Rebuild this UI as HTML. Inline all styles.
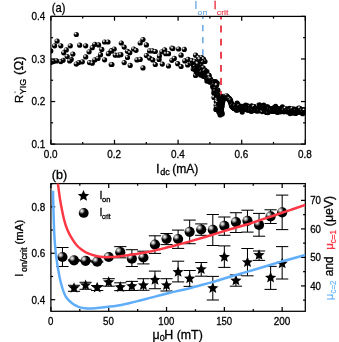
<!DOCTYPE html>
<html><head><meta charset="utf-8"><title>fig</title>
<style>
html,body{margin:0;padding:0;background:#fff;}
svg{display:block;font-family:"Liberation Sans", sans-serif;will-change:transform;}
text{stroke-width:0.3px;}
text[fill="#000"]{stroke:#000;}
text[fill="#ff3644"]{stroke:#ff3644;}
text[fill="#60aefa"]{stroke:#60aefa;stroke-width:0.1px;}
</style></head><body>
<svg width="339" height="342" viewBox="0 0 339 342">
<defs>
<radialGradient id="gs" cx="0.33" cy="0.31" r="0.31" fx="0.33" fy="0.31">
<stop offset="0" stop-color="#fff"/><stop offset="0.4" stop-color="#aaa"/><stop offset="1" stop-color="#000"/>
</radialGradient>
<radialGradient id="gb" cx="0.31" cy="0.30" r="0.33" fx="0.31" fy="0.30">
<stop offset="0" stop-color="#fff"/><stop offset="0.35" stop-color="#bbb"/><stop offset="1" stop-color="#000"/>
</radialGradient>
<clipPath id="ct"><rect x="50.9" y="16.4" width="254.4" height="127.69999999999999"/></clipPath>
<clipPath id="cb"><rect x="50.9" y="183.6" width="254.4" height="127.70000000000002"/></clipPath>
</defs>
<rect width="339" height="342" fill="#fff"/>
<g>

<g clip-path="url(#ct)"><line x1="202.8" y1="12.75" x2="202.8" y2="55.6" stroke="#72ace4" stroke-width="1.65" stroke-dasharray="6.3 5.85"/>
<line x1="221.0" y1="12.5" x2="221.0" y2="100" stroke="#ea3442" stroke-width="1.85" stroke-dasharray="6.9 6.2"/></g>
<g clip-path="url(#ct)">
<circle cx="76.3" cy="34.5" r="2.6" fill="url(#gs)"/>
<circle cx="57.1" cy="41.1" r="2.6" fill="url(#gs)"/>
<circle cx="54.6" cy="45.8" r="2.6" fill="url(#gs)"/>
<circle cx="60.8" cy="45.8" r="2.6" fill="url(#gs)"/>
<circle cx="50.8" cy="50.9" r="2.6" fill="url(#gs)"/>
<circle cx="70.3" cy="45.8" r="2.6" fill="url(#gs)"/>
<circle cx="66.3" cy="49.9" r="2.6" fill="url(#gs)"/>
<circle cx="63.7" cy="52.8" r="2.6" fill="url(#gs)"/>
<circle cx="72.9" cy="54.1" r="2.6" fill="url(#gs)"/>
<circle cx="67.2" cy="56.5" r="2.6" fill="url(#gs)"/>
<circle cx="71.2" cy="59.4" r="2.6" fill="url(#gs)"/>
<circle cx="69.7" cy="60.9" r="2.6" fill="url(#gs)"/>
<circle cx="63.1" cy="60.3" r="2.6" fill="url(#gs)"/>
<circle cx="60.8" cy="61.6" r="2.6" fill="url(#gs)"/>
<circle cx="56.5" cy="60.9" r="2.6" fill="url(#gs)"/>
<circle cx="53.3" cy="61.6" r="2.6" fill="url(#gs)"/>
<circle cx="50.8" cy="62.6" r="2.6" fill="url(#gs)"/>
<circle cx="79.7" cy="45.2" r="2.6" fill="url(#gs)"/>
<circle cx="85.7" cy="45.8" r="2.6" fill="url(#gs)"/>
<circle cx="89.1" cy="51.8" r="2.6" fill="url(#gs)"/>
<circle cx="85.7" cy="56.9" r="2.6" fill="url(#gs)"/>
<circle cx="82.3" cy="61.8" r="2.6" fill="url(#gs)"/>
<circle cx="78.8" cy="62.6" r="2.6" fill="url(#gs)"/>
<circle cx="76.3" cy="64.1" r="2.6" fill="url(#gs)"/>
<circle cx="89.5" cy="62.6" r="2.6" fill="url(#gs)"/>
<circle cx="92.3" cy="63.2" r="2.6" fill="url(#gs)"/>
<circle cx="94.8" cy="59.9" r="2.6" fill="url(#gs)"/>
<circle cx="98.0" cy="58.4" r="2.6" fill="url(#gs)"/>
<circle cx="100.5" cy="54.7" r="2.6" fill="url(#gs)"/>
<circle cx="101.8" cy="49.4" r="2.6" fill="url(#gs)"/>
<circle cx="98.6" cy="44.9" r="2.6" fill="url(#gs)"/>
<circle cx="94.8" cy="44.3" r="2.6" fill="url(#gs)"/>
<circle cx="92.3" cy="47.7" r="2.6" fill="url(#gs)"/>
<circle cx="104.6" cy="42.0" r="2.6" fill="url(#gs)"/>
<circle cx="108.0" cy="42.0" r="2.6" fill="url(#gs)"/>
<circle cx="104.6" cy="59.8" r="2.6" fill="url(#gs)"/>
<circle cx="108.4" cy="53.7" r="2.6" fill="url(#gs)"/>
<circle cx="111.2" cy="50.9" r="2.6" fill="url(#gs)"/>
<circle cx="111.2" cy="64.5" r="2.6" fill="url(#gs)"/>
<circle cx="121.3" cy="43.0" r="2.6" fill="url(#gs)"/>
<circle cx="124.2" cy="47.1" r="2.6" fill="url(#gs)"/>
<circle cx="114.2" cy="49.0" r="2.6" fill="url(#gs)"/>
<circle cx="111.5" cy="50.9" r="2.6" fill="url(#gs)"/>
<circle cx="115.3" cy="55.2" r="2.6" fill="url(#gs)"/>
<circle cx="118.5" cy="55.2" r="2.6" fill="url(#gs)"/>
<circle cx="120.9" cy="54.7" r="2.6" fill="url(#gs)"/>
<circle cx="127.5" cy="51.3" r="2.6" fill="url(#gs)"/>
<circle cx="129.8" cy="52.8" r="2.6" fill="url(#gs)"/>
<circle cx="133.6" cy="49.0" r="2.6" fill="url(#gs)"/>
<circle cx="136.0" cy="50.3" r="2.6" fill="url(#gs)"/>
<circle cx="127.5" cy="57.5" r="2.6" fill="url(#gs)"/>
<circle cx="124.2" cy="62.6" r="2.6" fill="url(#gs)"/>
<circle cx="130.2" cy="65.4" r="2.6" fill="url(#gs)"/>
<circle cx="111.9" cy="64.5" r="2.6" fill="url(#gs)"/>
<circle cx="137.0" cy="59.9" r="2.6" fill="url(#gs)"/>
<circle cx="140.2" cy="59.4" r="2.6" fill="url(#gs)"/>
<circle cx="143.0" cy="67.9" r="2.6" fill="url(#gs)"/>
<circle cx="140.2" cy="43.0" r="2.6" fill="url(#gs)"/>
<circle cx="143.0" cy="39.6" r="2.6" fill="url(#gs)"/>
<circle cx="146.4" cy="44.9" r="2.6" fill="url(#gs)"/>
<circle cx="146.4" cy="55.6" r="2.6" fill="url(#gs)"/>
<circle cx="149.6" cy="50.9" r="2.6" fill="url(#gs)"/>
<circle cx="152.5" cy="50.9" r="2.6" fill="url(#gs)"/>
<circle cx="155.3" cy="51.5" r="2.6" fill="url(#gs)"/>
<circle cx="149.6" cy="58.1" r="2.6" fill="url(#gs)"/>
<circle cx="152.8" cy="59.9" r="2.6" fill="url(#gs)"/>
<circle cx="155.3" cy="64.5" r="2.6" fill="url(#gs)"/>
<circle cx="159.1" cy="59.4" r="2.6" fill="url(#gs)"/>
<circle cx="159.4" cy="56.0" r="2.6" fill="url(#gs)"/>
<circle cx="161.9" cy="51.8" r="2.6" fill="url(#gs)"/>
<circle cx="164.7" cy="49.9" r="2.6" fill="url(#gs)"/>
<circle cx="165.7" cy="53.7" r="2.6" fill="url(#gs)"/>
<circle cx="168.5" cy="53.7" r="2.6" fill="url(#gs)"/>
<circle cx="162.3" cy="64.1" r="2.6" fill="url(#gs)"/>
<circle cx="168.5" cy="66.0" r="2.6" fill="url(#gs)"/>
<circle cx="171.9" cy="48.1" r="2.6" fill="url(#gs)"/>
<circle cx="171.9" cy="60.3" r="2.6" fill="url(#gs)"/>
<circle cx="172.9" cy="48.6" r="2.6" fill="url(#gs)"/>
<circle cx="178.6" cy="49.0" r="2.6" fill="url(#gs)"/>
<circle cx="184.3" cy="49.4" r="2.6" fill="url(#gs)"/>
<circle cx="181.1" cy="55.2" r="2.6" fill="url(#gs)"/>
<circle cx="174.3" cy="58.4" r="2.6" fill="url(#gs)"/>
<circle cx="177.7" cy="63.7" r="2.6" fill="url(#gs)"/>
<circle cx="181.1" cy="66.5" r="2.6" fill="url(#gs)"/>
<circle cx="184.8" cy="60.9" r="2.6" fill="url(#gs)"/>
<circle cx="188.0" cy="59.4" r="2.6" fill="url(#gs)"/>
<circle cx="187.7" cy="65.0" r="2.6" fill="url(#gs)"/>
<circle cx="190.9" cy="63.2" r="2.6" fill="url(#gs)"/>
<circle cx="191.8" cy="60.7" r="2.6" fill="url(#gs)"/>
<circle cx="195.6" cy="55.2" r="2.6" fill="url(#gs)"/>
<circle cx="198.4" cy="57.5" r="2.6" fill="url(#gs)"/>
<circle cx="201.2" cy="59.4" r="2.6" fill="url(#gs)"/>
<circle cx="194.6" cy="61.3" r="2.6" fill="url(#gs)"/>
<circle cx="197.5" cy="63.2" r="2.6" fill="url(#gs)"/>
<circle cx="200.3" cy="65.0" r="2.6" fill="url(#gs)"/>
<circle cx="193.7" cy="66.0" r="2.6" fill="url(#gs)"/>
<circle cx="196.5" cy="67.9" r="2.6" fill="url(#gs)"/>
<circle cx="200.3" cy="68.8" r="2.6" fill="url(#gs)"/>
<circle cx="203.1" cy="67.9" r="2.6" fill="url(#gs)"/>
<circle cx="205.0" cy="70.1" r="2.6" fill="url(#gs)"/>
<circle cx="206.9" cy="71.6" r="2.6" fill="url(#gs)"/>
<circle cx="195.6" cy="75.4" r="2.6" fill="url(#gs)"/>
<circle cx="198.4" cy="73.5" r="2.6" fill="url(#gs)"/>
<circle cx="202.2" cy="74.5" r="2.6" fill="url(#gs)"/>
<circle cx="205.0" cy="76.4" r="2.6" fill="url(#gs)"/>
<circle cx="207.8" cy="76.4" r="2.6" fill="url(#gs)"/>
<circle cx="208.8" cy="79.2" r="2.6" fill="url(#gs)"/>
<circle cx="206.9" cy="81.1" r="2.6" fill="url(#gs)"/>
<circle cx="210.7" cy="81.5" r="2.6" fill="url(#gs)"/>
<circle cx="216.3" cy="83.0" r="2.6" fill="url(#gs)"/>
<circle cx="201.5" cy="57.5" r="2.6" fill="url(#gs)"/>
<circle cx="203.5" cy="59.0" r="2.6" fill="url(#gs)"/>
<circle cx="205.0" cy="61.5" r="2.6" fill="url(#gs)"/>
<circle cx="202.5" cy="62.0" r="2.6" fill="url(#gs)"/>
<circle cx="199.5" cy="59.2" r="2.6" fill="url(#gs)"/>
<circle cx="197.5" cy="63.7" r="2.6" fill="url(#gs)"/>
<circle cx="193.2" cy="68.9" r="2.6" fill="url(#gs)"/>
<circle cx="193.7" cy="65.4" r="2.6" fill="#000"/>
<circle cx="193.7" cy="65.5" r="2.6" fill="#000"/>
<circle cx="194.2" cy="68.6" r="2.6" fill="#000"/>
<circle cx="194.7" cy="66.0" r="2.6" fill="#000"/>
<circle cx="194.8" cy="66.4" r="2.6" fill="#000"/>
<circle cx="194.8" cy="66.8" r="2.6" fill="url(#gs)"/>
<circle cx="195.5" cy="67.6" r="2.6" fill="#000"/>
<circle cx="195.4" cy="70.0" r="2.6" fill="#000"/>
<circle cx="195.7" cy="69.0" r="2.6" fill="url(#gs)"/>
<circle cx="196.4" cy="72.2" r="2.6" fill="#000"/>
<circle cx="196.6" cy="68.7" r="2.6" fill="#000"/>
<circle cx="197.0" cy="68.9" r="2.6" fill="#000"/>
<circle cx="197.3" cy="72.4" r="2.6" fill="#000"/>
<circle cx="197.6" cy="71.4" r="2.6" fill="#000"/>
<circle cx="198.0" cy="69.8" r="2.6" fill="#000"/>
<circle cx="198.1" cy="68.0" r="2.6" fill="#000"/>
<circle cx="198.4" cy="69.1" r="2.6" fill="#000"/>
<circle cx="198.7" cy="69.9" r="2.6" fill="#000"/>
<circle cx="198.9" cy="71.8" r="2.6" fill="#000"/>
<circle cx="199.3" cy="73.3" r="2.6" fill="url(#gs)"/>
<circle cx="199.7" cy="72.8" r="2.6" fill="#000"/>
<circle cx="200.0" cy="71.9" r="2.6" fill="#000"/>
<circle cx="200.5" cy="74.3" r="2.6" fill="#000"/>
<circle cx="200.6" cy="75.1" r="2.6" fill="#000"/>
<circle cx="200.8" cy="69.7" r="2.6" fill="url(#gs)"/>
<circle cx="201.0" cy="70.1" r="2.6" fill="#000"/>
<circle cx="201.7" cy="72.4" r="2.6" fill="url(#gs)"/>
<circle cx="202.1" cy="74.3" r="2.6" fill="url(#gs)"/>
<circle cx="202.2" cy="73.3" r="2.6" fill="#000"/>
<circle cx="202.5" cy="74.2" r="2.6" fill="#000"/>
<circle cx="202.7" cy="73.7" r="2.6" fill="#000"/>
<circle cx="202.9" cy="75.4" r="2.6" fill="#000"/>
<circle cx="203.3" cy="76.3" r="2.6" fill="#000"/>
<circle cx="203.4" cy="70.8" r="2.6" fill="#000"/>
<circle cx="204.0" cy="75.0" r="2.6" fill="#000"/>
<circle cx="204.0" cy="76.0" r="2.6" fill="#000"/>
<circle cx="204.2" cy="72.7" r="2.6" fill="#000"/>
<circle cx="204.7" cy="71.1" r="2.6" fill="url(#gs)"/>
<circle cx="205.4" cy="74.3" r="2.6" fill="#000"/>
<circle cx="205.6" cy="72.0" r="2.6" fill="#000"/>
<circle cx="205.9" cy="76.9" r="2.6" fill="url(#gs)"/>
<circle cx="206.2" cy="74.7" r="2.6" fill="#000"/>
<circle cx="206.5" cy="78.1" r="2.6" fill="url(#gs)"/>
<circle cx="206.9" cy="76.4" r="2.6" fill="url(#gs)"/>
<circle cx="207.2" cy="78.8" r="2.6" fill="#000"/>
<circle cx="207.5" cy="75.3" r="2.6" fill="#000"/>
<circle cx="207.4" cy="76.5" r="2.6" fill="#000"/>
<circle cx="207.8" cy="80.2" r="2.6" fill="url(#gs)"/>
<circle cx="208.6" cy="75.4" r="2.6" fill="url(#gs)"/>
<circle cx="208.7" cy="76.2" r="2.6" fill="url(#gs)"/>
<circle cx="209.1" cy="78.1" r="2.6" fill="#000"/>
<circle cx="209.1" cy="75.4" r="2.6" fill="url(#gs)"/>
<circle cx="209.5" cy="78.3" r="2.6" fill="url(#gs)"/>
<circle cx="209.7" cy="82.1" r="2.6" fill="url(#gs)"/>
<circle cx="210.3" cy="80.7" r="2.6" fill="#000"/>
<circle cx="208.5" cy="80.2" r="2.6" fill="#000"/>
<circle cx="210.6" cy="79.1" r="2.6" fill="url(#gs)"/>
<circle cx="213.1" cy="81.5" r="2.6" fill="url(#gs)"/>
<circle cx="209.9" cy="81.8" r="2.6" fill="#000"/>
<circle cx="210.6" cy="80.5" r="2.6" fill="#000"/>
<circle cx="212.9" cy="82.2" r="2.6" fill="#000"/>
<circle cx="212.8" cy="81.6" r="2.6" fill="url(#gs)"/>
<circle cx="212.8" cy="81.9" r="2.6" fill="url(#gs)"/>
<circle cx="212.6" cy="82.0" r="2.6" fill="#000"/>
<circle cx="213.6" cy="82.7" r="2.6" fill="#000"/>
<circle cx="214.6" cy="82.9" r="2.6" fill="url(#gs)"/>
<circle cx="214.5" cy="85.5" r="2.6" fill="url(#gs)"/>
<circle cx="213.2" cy="84.6" r="2.6" fill="#000"/>
<circle cx="213.4" cy="85.5" r="2.6" fill="url(#gs)"/>
<circle cx="213.6" cy="87.3" r="2.6" fill="#000"/>
<circle cx="214.8" cy="88.3" r="2.6" fill="url(#gs)"/>
<circle cx="212.7" cy="86.7" r="2.6" fill="#000"/>
<circle cx="214.8" cy="87.4" r="2.6" fill="#000"/>
<circle cx="214.0" cy="89.7" r="2.6" fill="#000"/>
<circle cx="215.7" cy="88.7" r="2.6" fill="url(#gs)"/>
<circle cx="217.9" cy="90.2" r="2.6" fill="url(#gs)"/>
<circle cx="215.5" cy="89.9" r="2.6" fill="#000"/>
<circle cx="214.8" cy="91.5" r="2.6" fill="url(#gs)"/>
<circle cx="215.2" cy="93.1" r="2.6" fill="url(#gs)"/>
<circle cx="216.9" cy="92.0" r="2.6" fill="#000"/>
<circle cx="213.8" cy="92.9" r="2.6" fill="#000"/>
<circle cx="216.8" cy="93.9" r="2.6" fill="#000"/>
<circle cx="217.9" cy="95.1" r="2.6" fill="#000"/>
<circle cx="215.3" cy="95.8" r="2.6" fill="#000"/>
<circle cx="216.8" cy="96.9" r="2.6" fill="#000"/>
<circle cx="217.6" cy="97.1" r="2.6" fill="url(#gs)"/>
<circle cx="214.0" cy="97.5" r="2.6" fill="url(#gs)"/>
<circle cx="216.5" cy="97.2" r="2.6" fill="#000"/>
<circle cx="218.0" cy="97.0" r="2.6" fill="#000"/>
<circle cx="217.6" cy="98.2" r="2.6" fill="#000"/>
<circle cx="216.7" cy="99.8" r="2.6" fill="url(#gs)"/>
<circle cx="218.1" cy="101.0" r="2.6" fill="#000"/>
<circle cx="216.3" cy="101.8" r="2.6" fill="url(#gs)"/>
<circle cx="218.2" cy="100.6" r="2.6" fill="#000"/>
<circle cx="216.7" cy="101.3" r="2.6" fill="url(#gs)"/>
<circle cx="217.5" cy="102.8" r="2.6" fill="url(#gs)"/>
<circle cx="218.3" cy="104.1" r="2.6" fill="#000"/>
<circle cx="218.4" cy="104.2" r="2.6" fill="#000"/>
<circle cx="216.2" cy="105.2" r="2.6" fill="url(#gs)"/>
<circle cx="219.6" cy="106.1" r="2.6" fill="#000"/>
<circle cx="219.0" cy="106.4" r="2.6" fill="#000"/>
<circle cx="218.1" cy="105.6" r="2.6" fill="#000"/>
<circle cx="216.5" cy="107.7" r="2.6" fill="url(#gs)"/>
<circle cx="217.1" cy="108.8" r="2.6" fill="url(#gs)"/>
<circle cx="220.8" cy="108.0" r="2.6" fill="#000"/>
<circle cx="215.9" cy="109.4" r="2.6" fill="#000"/>
<circle cx="220.9" cy="108.7" r="2.6" fill="#000"/>
<circle cx="219.7" cy="111.1" r="2.6" fill="url(#gs)"/>
<circle cx="219.8" cy="111.5" r="2.6" fill="#000"/>
<circle cx="221.1" cy="112.5" r="2.6" fill="#000"/>
<circle cx="221.8" cy="112.4" r="2.6" fill="#000"/>
<circle cx="218.7" cy="111.7" r="2.6" fill="#000"/>
<circle cx="221.4" cy="112.1" r="2.6" fill="#000"/>
<circle cx="222.2" cy="113.9" r="2.6" fill="url(#gs)"/>
<circle cx="220.2" cy="114.9" r="2.6" fill="#000"/>
<circle cx="220.3" cy="114.4" r="2.6" fill="url(#gs)"/>
<circle cx="220.0" cy="113.3" r="2.6" fill="#000"/>
<circle cx="221.0" cy="112.5" r="2.6" fill="#000"/>
<circle cx="221.1" cy="111.6" r="2.6" fill="#000"/>
<circle cx="220.8" cy="111.0" r="2.6" fill="url(#gs)"/>
<circle cx="221.2" cy="110.9" r="2.6" fill="url(#gs)"/>
<circle cx="221.0" cy="109.4" r="2.6" fill="#000"/>
<circle cx="221.5" cy="109.7" r="2.6" fill="#000"/>
<circle cx="221.2" cy="109.1" r="2.6" fill="#000"/>
<circle cx="221.4" cy="107.5" r="2.6" fill="url(#gs)"/>
<circle cx="221.6" cy="107.8" r="2.6" fill="url(#gs)"/>
<circle cx="221.8" cy="106.7" r="2.6" fill="#000"/>
<circle cx="221.8" cy="106.2" r="2.6" fill="#000"/>
<circle cx="221.7" cy="104.8" r="2.6" fill="url(#gs)"/>
<circle cx="222.1" cy="104.5" r="2.6" fill="#000"/>
<circle cx="221.9" cy="103.6" r="2.6" fill="#000"/>
<circle cx="222.1" cy="103.6" r="2.6" fill="url(#gs)"/>
<circle cx="222.0" cy="102.6" r="2.6" fill="#000"/>
<circle cx="222.1" cy="102.1" r="2.6" fill="url(#gs)"/>
<circle cx="223.0" cy="101.1" r="2.6" fill="#000"/>
<circle cx="222.4" cy="101.1" r="2.6" fill="#000"/>
<circle cx="221.7" cy="99.8" r="2.6" fill="#000"/>
<circle cx="222.9" cy="99.2" r="2.6" fill="url(#gs)"/>
<circle cx="222.9" cy="98.9" r="2.6" fill="#000"/>
<circle cx="222.6" cy="97.9" r="2.6" fill="#000"/>
<circle cx="223.1" cy="98.4" r="2.6" fill="#000"/>
<circle cx="223.1" cy="97.9" r="2.6" fill="#000"/>
<circle cx="223.1" cy="96.4" r="2.6" fill="#000"/>
<circle cx="224.1" cy="97.9" r="2.6" fill="#000"/>
<circle cx="224.0" cy="96.9" r="2.6" fill="url(#gs)"/>
<circle cx="224.5" cy="96.5" r="2.6" fill="#000"/>
<circle cx="224.7" cy="96.9" r="2.6" fill="#000"/>
<circle cx="225.1" cy="96.4" r="2.6" fill="url(#gs)"/>
<circle cx="225.0" cy="97.4" r="2.6" fill="#000"/>
<circle cx="225.5" cy="97.0" r="2.6" fill="#000"/>
<circle cx="225.6" cy="98.2" r="2.6" fill="#000"/>
<circle cx="226.6" cy="97.9" r="2.6" fill="url(#gs)"/>
<circle cx="226.5" cy="98.2" r="2.6" fill="#000"/>
<circle cx="226.7" cy="95.8" r="2.6" fill="url(#gs)"/>
<circle cx="227.2" cy="97.9" r="2.6" fill="url(#gs)"/>
<circle cx="227.3" cy="97.0" r="2.6" fill="#000"/>
<circle cx="227.8" cy="97.6" r="2.6" fill="url(#gs)"/>
<circle cx="228.1" cy="97.5" r="2.6" fill="#000"/>
<circle cx="228.6" cy="99.2" r="2.6" fill="#000"/>
<circle cx="228.7" cy="98.4" r="2.6" fill="url(#gs)"/>
<circle cx="229.0" cy="98.3" r="2.6" fill="#000"/>
<circle cx="229.5" cy="98.8" r="2.6" fill="url(#gs)"/>
<circle cx="229.6" cy="100.6" r="2.6" fill="#000"/>
<circle cx="229.8" cy="100.0" r="2.6" fill="#000"/>
<circle cx="230.2" cy="99.9" r="2.6" fill="#000"/>
<circle cx="230.6" cy="100.4" r="2.6" fill="url(#gs)"/>
<circle cx="230.5" cy="101.9" r="2.6" fill="#000"/>
<circle cx="231.0" cy="103.7" r="2.6" fill="url(#gs)"/>
<circle cx="230.8" cy="102.1" r="2.6" fill="#000"/>
<circle cx="231.4" cy="104.4" r="2.6" fill="url(#gs)"/>
<circle cx="231.3" cy="103.2" r="2.6" fill="#000"/>
<circle cx="231.5" cy="106.0" r="2.6" fill="#000"/>
<circle cx="232.0" cy="104.0" r="2.6" fill="#000"/>
<circle cx="232.3" cy="106.9" r="2.6" fill="#000"/>
<circle cx="232.4" cy="105.7" r="2.6" fill="url(#gs)"/>
<circle cx="232.8" cy="106.3" r="2.6" fill="#000"/>
<circle cx="233.1" cy="107.5" r="2.6" fill="#000"/>
<circle cx="233.4" cy="105.7" r="2.6" fill="#000"/>
<circle cx="234.0" cy="108.3" r="2.6" fill="#000"/>
<circle cx="234.0" cy="108.6" r="2.6" fill="url(#gs)"/>
<circle cx="234.5" cy="107.1" r="2.6" fill="#000"/>
<circle cx="234.8" cy="107.4" r="2.6" fill="#000"/>
<circle cx="235.0" cy="107.6" r="2.6" fill="url(#gs)"/>
<circle cx="235.4" cy="106.1" r="2.6" fill="url(#gs)"/>
<circle cx="235.9" cy="106.6" r="2.6" fill="#000"/>
<circle cx="236.1" cy="108.0" r="2.6" fill="#000"/>
<circle cx="236.3" cy="108.6" r="2.6" fill="#000"/>
<circle cx="236.5" cy="110.2" r="2.6" fill="#000"/>
<circle cx="236.8" cy="106.2" r="2.6" fill="#000"/>
<circle cx="237.1" cy="103.1" r="2.6" fill="#000"/>
<circle cx="237.5" cy="110.0" r="2.6" fill="#000"/>
<circle cx="237.9" cy="105.4" r="2.6" fill="#000"/>
<circle cx="238.1" cy="108.3" r="2.6" fill="#000"/>
<circle cx="238.2" cy="104.6" r="2.6" fill="#000"/>
<circle cx="238.6" cy="109.1" r="2.6" fill="#000"/>
<circle cx="238.9" cy="108.9" r="2.6" fill="#000"/>
<circle cx="239.0" cy="106.3" r="2.6" fill="url(#gs)"/>
<circle cx="239.4" cy="107.2" r="2.6" fill="#000"/>
<circle cx="239.8" cy="108.0" r="2.6" fill="#000"/>
<circle cx="240.1" cy="107.5" r="2.6" fill="#000"/>
<circle cx="240.3" cy="108.0" r="2.6" fill="#000"/>
<circle cx="240.8" cy="109.6" r="2.6" fill="#000"/>
<circle cx="240.7" cy="106.9" r="2.6" fill="#000"/>
<circle cx="241.2" cy="107.7" r="2.6" fill="#000"/>
<circle cx="241.7" cy="106.7" r="2.6" fill="url(#gs)"/>
<circle cx="241.9" cy="106.4" r="2.6" fill="#000"/>
<circle cx="242.2" cy="112.1" r="2.6" fill="#000"/>
<circle cx="242.4" cy="106.5" r="2.6" fill="#000"/>
<circle cx="242.8" cy="109.3" r="2.6" fill="#000"/>
<circle cx="243.1" cy="107.8" r="2.6" fill="#000"/>
<circle cx="243.4" cy="106.4" r="2.6" fill="#000"/>
<circle cx="243.8" cy="106.7" r="2.6" fill="#000"/>
<circle cx="244.0" cy="107.7" r="2.6" fill="url(#gs)"/>
<circle cx="244.3" cy="107.8" r="2.6" fill="#000"/>
<circle cx="244.7" cy="107.5" r="2.6" fill="#000"/>
<circle cx="244.9" cy="109.4" r="2.6" fill="#000"/>
<circle cx="245.2" cy="108.2" r="2.6" fill="#000"/>
<circle cx="245.7" cy="105.1" r="2.6" fill="#000"/>
<circle cx="245.8" cy="106.5" r="2.6" fill="#000"/>
<circle cx="245.9" cy="109.3" r="2.6" fill="#000"/>
<circle cx="246.3" cy="105.7" r="2.6" fill="#000"/>
<circle cx="247.1" cy="109.7" r="2.6" fill="#000"/>
<circle cx="247.2" cy="107.8" r="2.6" fill="#000"/>
<circle cx="247.3" cy="110.0" r="2.6" fill="#000"/>
<circle cx="247.3" cy="106.1" r="2.6" fill="#000"/>
<circle cx="247.7" cy="108.5" r="2.6" fill="url(#gs)"/>
<circle cx="248.1" cy="106.1" r="2.6" fill="#000"/>
<circle cx="248.5" cy="109.7" r="2.6" fill="#000"/>
<circle cx="248.6" cy="109.2" r="2.6" fill="#000"/>
<circle cx="248.9" cy="110.2" r="2.6" fill="#000"/>
<circle cx="249.3" cy="107.8" r="2.6" fill="#000"/>
<circle cx="249.6" cy="109.1" r="2.6" fill="#000"/>
<circle cx="250.1" cy="107.7" r="2.6" fill="#000"/>
<circle cx="250.4" cy="109.4" r="2.6" fill="url(#gs)"/>
<circle cx="250.5" cy="106.6" r="2.6" fill="url(#gs)"/>
<circle cx="250.8" cy="107.5" r="2.6" fill="#000"/>
<circle cx="251.1" cy="111.3" r="2.6" fill="#000"/>
<circle cx="251.6" cy="108.3" r="2.6" fill="#000"/>
<circle cx="251.7" cy="105.9" r="2.6" fill="#000"/>
<circle cx="252.1" cy="110.9" r="2.6" fill="#000"/>
<circle cx="252.6" cy="108.4" r="2.6" fill="#000"/>
<circle cx="252.8" cy="108.1" r="2.6" fill="#000"/>
<circle cx="253.3" cy="109.2" r="2.6" fill="#000"/>
<circle cx="253.6" cy="110.4" r="2.6" fill="url(#gs)"/>
<circle cx="253.6" cy="107.0" r="2.6" fill="url(#gs)"/>
<circle cx="254.1" cy="107.3" r="2.6" fill="#000"/>
<circle cx="254.0" cy="106.7" r="2.6" fill="url(#gs)"/>
<circle cx="254.4" cy="109.3" r="2.6" fill="#000"/>
<circle cx="254.9" cy="108.5" r="2.6" fill="#000"/>
<circle cx="255.5" cy="107.8" r="2.6" fill="#000"/>
<circle cx="255.7" cy="109.1" r="2.6" fill="#000"/>
<circle cx="255.8" cy="108.3" r="2.6" fill="#000"/>
<circle cx="256.3" cy="107.7" r="2.6" fill="#000"/>
<circle cx="256.2" cy="108.1" r="2.6" fill="#000"/>
<circle cx="256.9" cy="106.8" r="2.6" fill="#000"/>
<circle cx="257.0" cy="111.2" r="2.6" fill="#000"/>
<circle cx="257.5" cy="110.1" r="2.6" fill="#000"/>
<circle cx="258.0" cy="109.0" r="2.6" fill="#000"/>
<circle cx="257.9" cy="105.8" r="2.6" fill="url(#gs)"/>
<circle cx="258.3" cy="110.5" r="2.6" fill="#000"/>
<circle cx="258.5" cy="108.6" r="2.6" fill="#000"/>
<circle cx="258.9" cy="109.8" r="2.6" fill="#000"/>
<circle cx="259.1" cy="108.0" r="2.6" fill="#000"/>
<circle cx="259.4" cy="104.9" r="2.6" fill="#000"/>
<circle cx="259.7" cy="110.8" r="2.6" fill="url(#gs)"/>
<circle cx="260.2" cy="105.5" r="2.6" fill="#000"/>
<circle cx="260.3" cy="108.5" r="2.6" fill="#000"/>
<circle cx="260.5" cy="110.3" r="2.6" fill="#000"/>
<circle cx="260.8" cy="109.0" r="2.6" fill="#000"/>
<circle cx="261.2" cy="107.2" r="2.6" fill="#000"/>
<circle cx="261.5" cy="108.6" r="2.6" fill="#000"/>
<circle cx="261.9" cy="108.2" r="2.6" fill="#000"/>
<circle cx="262.3" cy="109.0" r="2.6" fill="#000"/>
<circle cx="262.4" cy="109.0" r="2.6" fill="#000"/>
<circle cx="262.4" cy="111.6" r="2.6" fill="url(#gs)"/>
<circle cx="263.3" cy="108.2" r="2.6" fill="#000"/>
<circle cx="263.0" cy="108.6" r="2.6" fill="#000"/>
<circle cx="263.8" cy="105.2" r="2.6" fill="#000"/>
<circle cx="264.3" cy="107.8" r="2.6" fill="url(#gs)"/>
<circle cx="264.2" cy="107.9" r="2.6" fill="#000"/>
<circle cx="264.6" cy="109.8" r="2.6" fill="url(#gs)"/>
<circle cx="264.9" cy="109.8" r="2.6" fill="#000"/>
<circle cx="265.0" cy="110.2" r="2.6" fill="#000"/>
<circle cx="265.4" cy="109.0" r="2.6" fill="#000"/>
<circle cx="266.0" cy="109.7" r="2.6" fill="#000"/>
<circle cx="266.2" cy="112.3" r="2.6" fill="#000"/>
<circle cx="266.3" cy="110.0" r="2.6" fill="#000"/>
<circle cx="266.5" cy="112.3" r="2.6" fill="#000"/>
<circle cx="266.8" cy="106.9" r="2.6" fill="#000"/>
<circle cx="267.2" cy="111.6" r="2.6" fill="#000"/>
<circle cx="267.7" cy="106.8" r="2.6" fill="#000"/>
<circle cx="268.0" cy="108.5" r="2.6" fill="#000"/>
<circle cx="268.1" cy="112.6" r="2.6" fill="url(#gs)"/>
<circle cx="268.6" cy="110.5" r="2.6" fill="#000"/>
<circle cx="268.9" cy="108.6" r="2.6" fill="#000"/>
<circle cx="269.2" cy="109.1" r="2.6" fill="#000"/>
<circle cx="269.0" cy="109.2" r="2.6" fill="url(#gs)"/>
<circle cx="269.9" cy="108.8" r="2.6" fill="#000"/>
<circle cx="270.2" cy="108.7" r="2.6" fill="#000"/>
<circle cx="270.4" cy="110.0" r="2.6" fill="#000"/>
<circle cx="270.7" cy="110.9" r="2.6" fill="#000"/>
<circle cx="270.8" cy="110.1" r="2.6" fill="#000"/>
<circle cx="271.6" cy="111.1" r="2.6" fill="#000"/>
<circle cx="271.5" cy="110.1" r="2.6" fill="url(#gs)"/>
<circle cx="271.9" cy="110.7" r="2.6" fill="#000"/>
<circle cx="272.2" cy="110.4" r="2.6" fill="url(#gs)"/>
<circle cx="272.5" cy="109.4" r="2.6" fill="#000"/>
<circle cx="272.9" cy="111.4" r="2.6" fill="#000"/>
<circle cx="272.9" cy="108.3" r="2.6" fill="#000"/>
<circle cx="273.4" cy="108.2" r="2.6" fill="#000"/>
<circle cx="273.6" cy="109.3" r="2.6" fill="#000"/>
<circle cx="274.0" cy="109.0" r="2.6" fill="#000"/>
<circle cx="274.6" cy="110.9" r="2.6" fill="#000"/>
<circle cx="274.7" cy="107.7" r="2.6" fill="#000"/>
<circle cx="274.6" cy="109.9" r="2.6" fill="#000"/>
<circle cx="275.3" cy="109.7" r="2.6" fill="#000"/>
<circle cx="275.6" cy="106.3" r="2.6" fill="#000"/>
<circle cx="275.9" cy="111.5" r="2.6" fill="#000"/>
<circle cx="275.8" cy="110.1" r="2.6" fill="#000"/>
<circle cx="276.4" cy="109.0" r="2.6" fill="#000"/>
<circle cx="276.3" cy="107.9" r="2.6" fill="#000"/>
<circle cx="277.0" cy="111.2" r="2.6" fill="url(#gs)"/>
<circle cx="277.3" cy="112.2" r="2.6" fill="#000"/>
<circle cx="277.4" cy="112.2" r="2.6" fill="#000"/>
<circle cx="277.5" cy="109.9" r="2.6" fill="#000"/>
<circle cx="278.3" cy="110.9" r="2.6" fill="#000"/>
<circle cx="278.7" cy="108.5" r="2.6" fill="#000"/>
<circle cx="278.4" cy="109.6" r="2.6" fill="#000"/>
<circle cx="278.9" cy="110.1" r="2.6" fill="#000"/>
<circle cx="279.2" cy="109.6" r="2.6" fill="#000"/>
<circle cx="279.7" cy="110.2" r="2.6" fill="#000"/>
<circle cx="279.9" cy="111.8" r="2.6" fill="#000"/>
<circle cx="280.2" cy="109.8" r="2.6" fill="#000"/>
<circle cx="280.7" cy="110.0" r="2.6" fill="#000"/>
<circle cx="281.1" cy="109.8" r="2.6" fill="#000"/>
<circle cx="281.1" cy="111.6" r="2.6" fill="#000"/>
<circle cx="281.6" cy="108.9" r="2.6" fill="#000"/>
<circle cx="281.7" cy="110.4" r="2.6" fill="#000"/>
<circle cx="282.3" cy="111.3" r="2.6" fill="#000"/>
<circle cx="282.4" cy="106.8" r="2.6" fill="#000"/>
<circle cx="282.8" cy="108.4" r="2.6" fill="#000"/>
<circle cx="282.8" cy="109.2" r="2.6" fill="#000"/>
<circle cx="283.4" cy="110.3" r="2.6" fill="#000"/>
<circle cx="284.0" cy="109.9" r="2.6" fill="#000"/>
<circle cx="283.8" cy="111.8" r="2.6" fill="#000"/>
<circle cx="284.3" cy="109.6" r="2.6" fill="#000"/>
<circle cx="284.4" cy="110.2" r="2.6" fill="url(#gs)"/>
<circle cx="285.1" cy="111.2" r="2.6" fill="#000"/>
<circle cx="285.1" cy="111.5" r="2.6" fill="#000"/>
<circle cx="285.5" cy="108.5" r="2.6" fill="url(#gs)"/>
<circle cx="285.9" cy="111.1" r="2.6" fill="url(#gs)"/>
<circle cx="286.3" cy="110.3" r="2.6" fill="#000"/>
<circle cx="286.2" cy="111.4" r="2.6" fill="#000"/>
<circle cx="287.1" cy="109.5" r="2.6" fill="#000"/>
<circle cx="287.3" cy="110.5" r="2.6" fill="url(#gs)"/>
<circle cx="287.4" cy="110.5" r="2.6" fill="url(#gs)"/>
<circle cx="287.4" cy="111.9" r="2.6" fill="#000"/>
<circle cx="287.8" cy="110.8" r="2.6" fill="#000"/>
<circle cx="288.3" cy="108.8" r="2.6" fill="#000"/>
<circle cx="288.6" cy="111.2" r="2.6" fill="#000"/>
<circle cx="288.8" cy="109.8" r="2.6" fill="url(#gs)"/>
<circle cx="289.2" cy="111.3" r="2.6" fill="#000"/>
<circle cx="289.4" cy="111.0" r="2.6" fill="#000"/>
<circle cx="289.7" cy="108.4" r="2.6" fill="#000"/>
<circle cx="290.2" cy="112.2" r="2.6" fill="#000"/>
<circle cx="290.1" cy="113.6" r="2.6" fill="#000"/>
<circle cx="290.6" cy="110.2" r="2.6" fill="url(#gs)"/>
<circle cx="291.0" cy="112.6" r="2.6" fill="#000"/>
<circle cx="291.1" cy="112.5" r="2.6" fill="#000"/>
<circle cx="291.5" cy="109.8" r="2.6" fill="#000"/>
<circle cx="291.9" cy="110.3" r="2.6" fill="url(#gs)"/>
<circle cx="292.2" cy="111.8" r="2.6" fill="#000"/>
<circle cx="292.4" cy="108.8" r="2.6" fill="url(#gs)"/>
<circle cx="293.0" cy="113.1" r="2.6" fill="url(#gs)"/>
<circle cx="293.3" cy="111.1" r="2.6" fill="#000"/>
<circle cx="293.4" cy="111.8" r="2.6" fill="#000"/>
<circle cx="293.3" cy="110.4" r="2.6" fill="#000"/>
<circle cx="293.9" cy="109.6" r="2.6" fill="#000"/>
<circle cx="294.2" cy="111.5" r="2.6" fill="#000"/>
<circle cx="294.4" cy="109.1" r="2.6" fill="#000"/>
<circle cx="295.1" cy="112.1" r="2.6" fill="url(#gs)"/>
<circle cx="295.1" cy="111.7" r="2.6" fill="url(#gs)"/>
<circle cx="295.1" cy="111.2" r="2.6" fill="#000"/>
<circle cx="295.7" cy="113.5" r="2.6" fill="#000"/>
<circle cx="296.1" cy="110.8" r="2.6" fill="#000"/>
<circle cx="296.6" cy="111.8" r="2.6" fill="#000"/>
<circle cx="296.5" cy="110.5" r="2.6" fill="url(#gs)"/>
<circle cx="297.3" cy="110.3" r="2.6" fill="#000"/>
<circle cx="297.1" cy="110.8" r="2.6" fill="#000"/>
<circle cx="297.4" cy="111.0" r="2.6" fill="#000"/>
<circle cx="297.8" cy="111.1" r="2.6" fill="#000"/>
<circle cx="297.7" cy="109.1" r="2.6" fill="#000"/>
<circle cx="298.1" cy="111.9" r="2.6" fill="#000"/>
<circle cx="298.7" cy="108.1" r="2.6" fill="#000"/>
<circle cx="299.1" cy="112.2" r="2.6" fill="#000"/>
<circle cx="299.3" cy="111.1" r="2.6" fill="#000"/>
<circle cx="299.8" cy="108.3" r="2.6" fill="url(#gs)"/>
<circle cx="299.9" cy="112.0" r="2.6" fill="#000"/>
<circle cx="300.5" cy="111.0" r="2.6" fill="#000"/>
<circle cx="300.2" cy="111.4" r="2.6" fill="#000"/>
<circle cx="300.6" cy="110.7" r="2.6" fill="#000"/>
<circle cx="301.2" cy="109.8" r="2.6" fill="#000"/>
<circle cx="301.6" cy="111.9" r="2.6" fill="#000"/>
<circle cx="301.8" cy="111.2" r="2.6" fill="#000"/>
<circle cx="301.9" cy="111.5" r="2.6" fill="#000"/>
<circle cx="302.3" cy="110.3" r="2.6" fill="url(#gs)"/>
<circle cx="302.6" cy="113.7" r="2.6" fill="#000"/>
<circle cx="302.9" cy="112.2" r="2.6" fill="#000"/>
<circle cx="303.2" cy="111.8" r="2.6" fill="url(#gs)"/>
<circle cx="303.5" cy="109.5" r="2.6" fill="#000"/>
<circle cx="303.8" cy="110.5" r="2.6" fill="#000"/>
<circle cx="304.1" cy="109.9" r="2.6" fill="#000"/>
<circle cx="304.5" cy="110.5" r="2.6" fill="url(#gs)"/>
<circle cx="304.5" cy="112.4" r="2.6" fill="#000"/>
<circle cx="215.6" cy="81.5" r="2.6" fill="#000"/>
<circle cx="217.2" cy="83.0" r="2.6" fill="#000"/>
<circle cx="216.6" cy="85.2" r="2.6" fill="url(#gs)"/>
</g>
<rect x="50.9" y="16.4" width="254.4" height="127.69999999999999" fill="none" stroke="#000" stroke-width="1.25"/>
<line x1="50.90" y1="144.10" x2="50.90" y2="139.80" stroke="#000" stroke-width="1.25" />
<line x1="50.90" y1="16.40" x2="50.90" y2="20.70" stroke="#000" stroke-width="1.25" />
<line x1="82.70" y1="144.10" x2="82.70" y2="141.90" stroke="#000" stroke-width="1.25" />
<line x1="82.70" y1="16.40" x2="82.70" y2="18.60" stroke="#000" stroke-width="1.25" />
<line x1="114.50" y1="144.10" x2="114.50" y2="139.80" stroke="#000" stroke-width="1.25" />
<line x1="114.50" y1="16.40" x2="114.50" y2="20.70" stroke="#000" stroke-width="1.25" />
<line x1="146.30" y1="144.10" x2="146.30" y2="141.90" stroke="#000" stroke-width="1.25" />
<line x1="146.30" y1="16.40" x2="146.30" y2="18.60" stroke="#000" stroke-width="1.25" />
<line x1="178.10" y1="144.10" x2="178.10" y2="139.80" stroke="#000" stroke-width="1.25" />
<line x1="178.10" y1="16.40" x2="178.10" y2="20.70" stroke="#000" stroke-width="1.25" />
<line x1="209.90" y1="144.10" x2="209.90" y2="141.90" stroke="#000" stroke-width="1.25" />
<line x1="209.90" y1="16.40" x2="209.90" y2="18.60" stroke="#000" stroke-width="1.25" />
<line x1="241.70" y1="144.10" x2="241.70" y2="139.80" stroke="#000" stroke-width="1.25" />
<line x1="241.70" y1="16.40" x2="241.70" y2="20.70" stroke="#000" stroke-width="1.25" />
<line x1="273.50" y1="144.10" x2="273.50" y2="141.90" stroke="#000" stroke-width="1.25" />
<line x1="273.50" y1="16.40" x2="273.50" y2="18.60" stroke="#000" stroke-width="1.25" />
<line x1="305.30" y1="144.10" x2="305.30" y2="139.80" stroke="#000" stroke-width="1.25" />
<line x1="305.30" y1="16.40" x2="305.30" y2="20.70" stroke="#000" stroke-width="1.25" />
<line x1="50.90" y1="144.10" x2="55.20" y2="144.10" stroke="#000" stroke-width="1.25" />
<line x1="305.30" y1="144.10" x2="301.00" y2="144.10" stroke="#000" stroke-width="1.25" />
<line x1="50.90" y1="122.82" x2="53.10" y2="122.82" stroke="#000" stroke-width="1.25" />
<line x1="305.30" y1="122.82" x2="303.10" y2="122.82" stroke="#000" stroke-width="1.25" />
<line x1="50.90" y1="101.53" x2="55.20" y2="101.53" stroke="#000" stroke-width="1.25" />
<line x1="305.30" y1="101.53" x2="301.00" y2="101.53" stroke="#000" stroke-width="1.25" />
<line x1="50.90" y1="80.25" x2="53.10" y2="80.25" stroke="#000" stroke-width="1.25" />
<line x1="305.30" y1="80.25" x2="303.10" y2="80.25" stroke="#000" stroke-width="1.25" />
<line x1="50.90" y1="58.97" x2="55.20" y2="58.97" stroke="#000" stroke-width="1.25" />
<line x1="305.30" y1="58.97" x2="301.00" y2="58.97" stroke="#000" stroke-width="1.25" />
<line x1="50.90" y1="37.68" x2="53.10" y2="37.68" stroke="#000" stroke-width="1.25" />
<line x1="305.30" y1="37.68" x2="303.10" y2="37.68" stroke="#000" stroke-width="1.25" />
<line x1="50.90" y1="16.40" x2="55.20" y2="16.40" stroke="#000" stroke-width="1.25" />
<line x1="305.30" y1="16.40" x2="301.00" y2="16.40" stroke="#000" stroke-width="1.25" />
<text x="50.60" y="157.90" font-size="11.4" text-anchor="middle" fill="#000" textLength="13.80" lengthAdjust="spacingAndGlyphs" >0.0</text>
<text x="114.20" y="157.90" font-size="11.4" text-anchor="middle" fill="#000" textLength="13.80" lengthAdjust="spacingAndGlyphs" >0.2</text>
<text x="177.80" y="157.90" font-size="11.4" text-anchor="middle" fill="#000" textLength="13.80" lengthAdjust="spacingAndGlyphs" >0.4</text>
<text x="241.40" y="157.90" font-size="11.4" text-anchor="middle" fill="#000" textLength="13.80" lengthAdjust="spacingAndGlyphs" >0.6</text>
<text x="305.00" y="157.90" font-size="11.4" text-anchor="middle" fill="#000" textLength="13.80" lengthAdjust="spacingAndGlyphs" >0.8</text>
<text x="45.20" y="148.00" font-size="11.4" text-anchor="end" fill="#000" textLength="13.80" lengthAdjust="spacingAndGlyphs" >0.1</text>
<text x="45.20" y="105.43" font-size="11.4" text-anchor="end" fill="#000" textLength="13.80" lengthAdjust="spacingAndGlyphs" >0.2</text>
<text x="45.20" y="62.87" font-size="11.4" text-anchor="end" fill="#000" textLength="13.80" lengthAdjust="spacingAndGlyphs" >0.3</text>
<text x="45.20" y="20.30" font-size="11.4" text-anchor="end" fill="#000" textLength="13.80" lengthAdjust="spacingAndGlyphs" >0.4</text>
<text x="51.80" y="12.00" font-size="12.2" text-anchor="start" fill="#000" textLength="13.60" lengthAdjust="spacingAndGlyphs" >(a)</text>
<text x="156.1" y="172.7" font-size="13.0" fill="#000">I</text>
<text x="160.2" y="175.2" font-size="9.2" fill="#000" textLength="9.6" lengthAdjust="spacingAndGlyphs">dc</text>
<text x="172.2" y="172.7" font-size="12.4" fill="#000" textLength="26.2" lengthAdjust="spacingAndGlyphs">(mA)</text>
<g transform="translate(22.9,103) rotate(-90)"><text x="0" y="0" font-size="11.2" fill="#000">R</text><text x="9.8" y="-7.4" font-size="3.8" fill="#444" style="stroke:none">s</text><text x="8.6" y="2.7" font-size="8.3" fill="#000" textLength="15.6" lengthAdjust="spacingAndGlyphs">YIG</text><text x="28.0" y="0.3" font-size="12.4" fill="#000" textLength="18.6" lengthAdjust="spacingAndGlyphs">(&#937;)</text></g>
<text x="194.2" y="9.3" font-size="11.8" fill="#6aa8e2" style="stroke:#6aa8e2;stroke-width:0.2px">I</text>
<text x="197.6" y="14.5" font-size="7.6" fill="#6aa8e2" style="stroke:#6aa8e2;stroke-width:0.15px" textLength="9.6" lengthAdjust="spacingAndGlyphs">on</text>
<text x="213.5" y="9.3" font-size="11.8" fill="#ea3442" style="stroke:#ea3442;stroke-width:0.3px">I</text>
<text x="216.8" y="14.5" font-size="7.6" fill="#ea3442" style="stroke:#ea3442;stroke-width:0.12px" textLength="11.7" lengthAdjust="spacingAndGlyphs">crit</text>
<rect x="50.9" y="183.6" width="254.4" height="127.70000000000002" fill="none" stroke="#000" stroke-width="1.25"/>
<line x1="50.90" y1="311.30" x2="50.90" y2="307.00" stroke="#000" stroke-width="1.25" />
<line x1="50.90" y1="183.60" x2="50.90" y2="187.90" stroke="#000" stroke-width="1.25" />
<line x1="79.81" y1="311.30" x2="79.81" y2="309.10" stroke="#000" stroke-width="1.25" />
<line x1="79.81" y1="183.60" x2="79.81" y2="185.80" stroke="#000" stroke-width="1.25" />
<line x1="108.72" y1="311.30" x2="108.72" y2="307.00" stroke="#000" stroke-width="1.25" />
<line x1="108.72" y1="183.60" x2="108.72" y2="187.90" stroke="#000" stroke-width="1.25" />
<line x1="137.63" y1="311.30" x2="137.63" y2="309.10" stroke="#000" stroke-width="1.25" />
<line x1="137.63" y1="183.60" x2="137.63" y2="185.80" stroke="#000" stroke-width="1.25" />
<line x1="166.54" y1="311.30" x2="166.54" y2="307.00" stroke="#000" stroke-width="1.25" />
<line x1="166.54" y1="183.60" x2="166.54" y2="187.90" stroke="#000" stroke-width="1.25" />
<line x1="195.45" y1="311.30" x2="195.45" y2="309.10" stroke="#000" stroke-width="1.25" />
<line x1="195.45" y1="183.60" x2="195.45" y2="185.80" stroke="#000" stroke-width="1.25" />
<line x1="224.35" y1="311.30" x2="224.35" y2="307.00" stroke="#000" stroke-width="1.25" />
<line x1="224.35" y1="183.60" x2="224.35" y2="187.90" stroke="#000" stroke-width="1.25" />
<line x1="253.26" y1="311.30" x2="253.26" y2="309.10" stroke="#000" stroke-width="1.25" />
<line x1="253.26" y1="183.60" x2="253.26" y2="185.80" stroke="#000" stroke-width="1.25" />
<line x1="282.17" y1="311.30" x2="282.17" y2="307.00" stroke="#000" stroke-width="1.25" />
<line x1="282.17" y1="183.60" x2="282.17" y2="187.90" stroke="#000" stroke-width="1.25" />
<line x1="50.90" y1="299.69" x2="55.20" y2="299.69" stroke="#000" stroke-width="1.25" />
<line x1="50.90" y1="276.47" x2="53.10" y2="276.47" stroke="#000" stroke-width="1.25" />
<line x1="50.90" y1="253.25" x2="55.20" y2="253.25" stroke="#000" stroke-width="1.25" />
<line x1="50.90" y1="230.04" x2="53.10" y2="230.04" stroke="#000" stroke-width="1.25" />
<line x1="50.90" y1="206.82" x2="55.20" y2="206.82" stroke="#000" stroke-width="1.25" />
<line x1="50.90" y1="183.60" x2="53.10" y2="183.60" stroke="#000" stroke-width="1.25" />
<line x1="305.30" y1="300.15" x2="303.10" y2="300.15" stroke="#000" stroke-width="1.25" />
<line x1="305.30" y1="285.90" x2="301.00" y2="285.90" stroke="#000" stroke-width="1.25" />
<line x1="305.30" y1="271.65" x2="303.10" y2="271.65" stroke="#000" stroke-width="1.25" />
<line x1="305.30" y1="257.40" x2="301.00" y2="257.40" stroke="#000" stroke-width="1.25" />
<line x1="305.30" y1="243.15" x2="303.10" y2="243.15" stroke="#000" stroke-width="1.25" />
<line x1="305.30" y1="228.90" x2="301.00" y2="228.90" stroke="#000" stroke-width="1.25" />
<line x1="305.30" y1="214.65" x2="303.10" y2="214.65" stroke="#000" stroke-width="1.25" />
<line x1="305.30" y1="200.40" x2="301.00" y2="200.40" stroke="#000" stroke-width="1.25" />
<line x1="305.30" y1="186.15" x2="303.10" y2="186.15" stroke="#000" stroke-width="1.25" />
<line x1="74.03" y1="285.30" x2="74.03" y2="291.30" stroke="#000" stroke-width="1.05" />
<line x1="67.93" y1="285.30" x2="80.13" y2="285.30" stroke="#000" stroke-width="1.05" />
<line x1="67.93" y1="291.30" x2="80.13" y2="291.30" stroke="#000" stroke-width="1.05" />
<line x1="85.59" y1="282.30" x2="85.59" y2="289.30" stroke="#000" stroke-width="1.05" />
<line x1="79.49" y1="282.30" x2="91.69" y2="282.30" stroke="#000" stroke-width="1.05" />
<line x1="79.49" y1="289.30" x2="91.69" y2="289.30" stroke="#000" stroke-width="1.05" />
<line x1="97.15" y1="285.50" x2="97.15" y2="290.50" stroke="#000" stroke-width="1.05" />
<line x1="91.05" y1="285.50" x2="103.25" y2="285.50" stroke="#000" stroke-width="1.05" />
<line x1="91.05" y1="290.50" x2="103.25" y2="290.50" stroke="#000" stroke-width="1.05" />
<line x1="108.72" y1="278.70" x2="108.72" y2="286.20" stroke="#000" stroke-width="1.05" />
<line x1="102.62" y1="278.70" x2="114.82" y2="278.70" stroke="#000" stroke-width="1.05" />
<line x1="102.62" y1="286.20" x2="114.82" y2="286.20" stroke="#000" stroke-width="1.05" />
<line x1="120.28" y1="282.80" x2="120.28" y2="290.60" stroke="#000" stroke-width="1.05" />
<line x1="114.18" y1="282.80" x2="126.38" y2="282.80" stroke="#000" stroke-width="1.05" />
<line x1="114.18" y1="290.60" x2="126.38" y2="290.60" stroke="#000" stroke-width="1.05" />
<line x1="131.85" y1="281.40" x2="131.85" y2="290.50" stroke="#000" stroke-width="1.05" />
<line x1="125.75" y1="281.40" x2="137.95" y2="281.40" stroke="#000" stroke-width="1.05" />
<line x1="125.75" y1="290.50" x2="137.95" y2="290.50" stroke="#000" stroke-width="1.05" />
<line x1="143.41" y1="278.70" x2="143.41" y2="290.30" stroke="#000" stroke-width="1.05" />
<line x1="137.31" y1="278.70" x2="149.51" y2="278.70" stroke="#000" stroke-width="1.05" />
<line x1="137.31" y1="290.30" x2="149.51" y2="290.30" stroke="#000" stroke-width="1.05" />
<line x1="154.97" y1="271.10" x2="154.97" y2="288.70" stroke="#000" stroke-width="1.05" />
<line x1="148.87" y1="271.10" x2="161.07" y2="271.10" stroke="#000" stroke-width="1.05" />
<line x1="148.87" y1="288.70" x2="161.07" y2="288.70" stroke="#000" stroke-width="1.05" />
<line x1="166.54" y1="278.70" x2="166.54" y2="291.00" stroke="#000" stroke-width="1.05" />
<line x1="160.44" y1="278.70" x2="172.64" y2="278.70" stroke="#000" stroke-width="1.05" />
<line x1="160.44" y1="291.00" x2="172.64" y2="291.00" stroke="#000" stroke-width="1.05" />
<line x1="178.10" y1="261.20" x2="178.10" y2="281.90" stroke="#000" stroke-width="1.05" />
<line x1="172.00" y1="261.20" x2="184.20" y2="261.20" stroke="#000" stroke-width="1.05" />
<line x1="172.00" y1="281.90" x2="184.20" y2="281.90" stroke="#000" stroke-width="1.05" />
<line x1="189.66" y1="270.50" x2="189.66" y2="286.40" stroke="#000" stroke-width="1.05" />
<line x1="183.56" y1="270.50" x2="195.76" y2="270.50" stroke="#000" stroke-width="1.05" />
<line x1="183.56" y1="286.40" x2="195.76" y2="286.40" stroke="#000" stroke-width="1.05" />
<line x1="201.23" y1="262.50" x2="201.23" y2="276.20" stroke="#000" stroke-width="1.05" />
<line x1="195.13" y1="262.50" x2="207.33" y2="262.50" stroke="#000" stroke-width="1.05" />
<line x1="195.13" y1="276.20" x2="207.33" y2="276.20" stroke="#000" stroke-width="1.05" />
<line x1="212.79" y1="276.40" x2="212.79" y2="300.00" stroke="#000" stroke-width="1.05" />
<line x1="206.69" y1="276.40" x2="218.89" y2="276.40" stroke="#000" stroke-width="1.05" />
<line x1="206.69" y1="300.00" x2="218.89" y2="300.00" stroke="#000" stroke-width="1.05" />
<line x1="224.35" y1="245.90" x2="224.35" y2="267.40" stroke="#000" stroke-width="1.05" />
<line x1="218.25" y1="245.90" x2="230.45" y2="245.90" stroke="#000" stroke-width="1.05" />
<line x1="218.25" y1="267.40" x2="230.45" y2="267.40" stroke="#000" stroke-width="1.05" />
<line x1="235.92" y1="274.90" x2="235.92" y2="286.20" stroke="#000" stroke-width="1.05" />
<line x1="229.82" y1="274.90" x2="242.02" y2="274.90" stroke="#000" stroke-width="1.05" />
<line x1="229.82" y1="286.20" x2="242.02" y2="286.20" stroke="#000" stroke-width="1.05" />
<line x1="247.48" y1="248.50" x2="247.48" y2="275.80" stroke="#000" stroke-width="1.05" />
<line x1="241.38" y1="248.50" x2="253.58" y2="248.50" stroke="#000" stroke-width="1.05" />
<line x1="241.38" y1="275.80" x2="253.58" y2="275.80" stroke="#000" stroke-width="1.05" />
<line x1="259.05" y1="251.00" x2="259.05" y2="260.40" stroke="#000" stroke-width="1.05" />
<line x1="252.95" y1="251.00" x2="265.15" y2="251.00" stroke="#000" stroke-width="1.05" />
<line x1="252.95" y1="260.40" x2="265.15" y2="260.40" stroke="#000" stroke-width="1.05" />
<line x1="270.61" y1="266.40" x2="270.61" y2="289.40" stroke="#000" stroke-width="1.05" />
<line x1="264.51" y1="266.40" x2="276.71" y2="266.40" stroke="#000" stroke-width="1.05" />
<line x1="264.51" y1="289.40" x2="276.71" y2="289.40" stroke="#000" stroke-width="1.05" />
<line x1="282.17" y1="246.60" x2="282.17" y2="279.00" stroke="#000" stroke-width="1.05" />
<line x1="276.07" y1="246.60" x2="288.27" y2="246.60" stroke="#000" stroke-width="1.05" />
<line x1="276.07" y1="279.00" x2="288.27" y2="279.00" stroke="#000" stroke-width="1.05" />
<polygon points="74.03,282.20 75.59,285.95 79.64,286.28 76.55,288.92 77.50,292.87 74.03,290.75 70.56,292.87 71.50,288.92 68.42,286.28 72.47,285.95" fill="#000"/>
<polygon points="85.59,279.40 87.15,283.15 91.20,283.48 88.12,286.12 89.06,290.07 85.59,287.95 82.12,290.07 83.07,286.12 79.98,283.48 84.03,283.15" fill="#000"/>
<polygon points="97.15,281.80 98.72,285.55 102.77,285.88 99.68,288.52 100.62,292.47 97.15,290.35 93.69,292.47 94.63,288.52 91.54,285.88 95.59,285.55" fill="#000"/>
<polygon points="108.72,276.30 110.28,280.05 114.33,280.38 111.24,283.02 112.19,286.97 108.72,284.85 105.25,286.97 106.19,283.02 103.11,280.38 107.16,280.05" fill="#000"/>
<polygon points="120.28,281.30 121.84,285.05 125.89,285.38 122.81,288.02 123.75,291.97 120.28,289.85 116.81,291.97 117.76,288.02 114.67,285.38 118.72,285.05" fill="#000"/>
<polygon points="131.85,280.30 133.41,284.05 137.46,284.38 134.37,287.02 135.31,290.97 131.85,288.85 128.38,290.97 129.32,287.02 126.23,284.38 130.28,284.05" fill="#000"/>
<polygon points="143.41,279.40 144.97,283.15 149.02,283.48 145.93,286.12 146.88,290.07 143.41,287.95 139.94,290.07 140.88,286.12 137.80,283.48 141.85,283.15" fill="#000"/>
<polygon points="154.97,274.10 156.53,277.85 160.58,278.18 157.50,280.82 158.44,284.77 154.97,282.65 151.50,284.77 152.45,280.82 149.36,278.18 153.41,277.85" fill="#000"/>
<polygon points="166.54,279.40 168.10,283.15 172.15,283.48 169.06,286.12 170.00,290.07 166.54,287.95 163.07,290.07 164.01,286.12 160.93,283.48 164.98,283.15" fill="#000"/>
<polygon points="178.10,266.20 179.66,269.95 183.71,270.28 180.63,272.92 181.57,276.87 178.10,274.75 174.63,276.87 175.57,272.92 172.49,270.28 176.54,269.95" fill="#000"/>
<polygon points="189.66,272.70 191.22,276.45 195.27,276.78 192.19,279.42 193.13,283.37 189.66,281.25 186.20,283.37 187.14,279.42 184.05,276.78 188.10,276.45" fill="#000"/>
<polygon points="201.23,263.40 202.79,267.15 206.84,267.48 203.75,270.12 204.70,274.07 201.23,271.95 197.76,274.07 198.70,270.12 195.62,267.48 199.67,267.15" fill="#000"/>
<polygon points="212.79,282.30 214.35,286.05 218.40,286.38 215.32,289.02 216.26,292.97 212.79,290.85 209.32,292.97 210.27,289.02 207.18,286.38 211.23,286.05" fill="#000"/>
<polygon points="224.35,251.10 225.92,254.85 229.97,255.18 226.88,257.82 227.82,261.77 224.35,259.65 220.89,261.77 221.83,257.82 218.74,255.18 222.79,254.85" fill="#000"/>
<polygon points="235.92,274.70 237.48,278.45 241.53,278.78 238.44,281.42 239.39,285.37 235.92,283.25 232.45,285.37 233.39,281.42 230.31,278.78 234.36,278.45" fill="#000"/>
<polygon points="247.48,256.40 249.04,260.15 253.09,260.48 250.01,263.12 250.95,267.07 247.48,264.95 244.01,267.07 244.96,263.12 241.87,260.48 245.92,260.15" fill="#000"/>
<polygon points="259.05,249.20 260.61,252.95 264.66,253.28 261.57,255.92 262.51,259.87 259.05,257.75 255.58,259.87 256.52,255.92 253.43,253.28 257.48,252.95" fill="#000"/>
<polygon points="270.61,271.80 272.17,275.55 276.22,275.88 273.13,278.52 274.08,282.47 270.61,280.35 267.14,282.47 268.08,278.52 265.00,275.88 269.05,275.55" fill="#000"/>
<polygon points="282.17,257.70 283.73,261.45 287.78,261.78 284.70,264.42 285.64,268.37 282.17,266.25 278.70,268.37 279.65,264.42 276.56,261.78 280.61,261.45" fill="#000"/>
<line x1="62.46" y1="247.50" x2="62.46" y2="266.50" stroke="#000" stroke-width="1.05" />
<line x1="56.36" y1="247.50" x2="68.56" y2="247.50" stroke="#000" stroke-width="1.05" />
<line x1="56.36" y1="266.50" x2="68.56" y2="266.50" stroke="#000" stroke-width="1.05" />
<line x1="74.03" y1="259.80" x2="74.03" y2="260.80" stroke="#000" stroke-width="1.05" />
<line x1="67.93" y1="259.80" x2="80.13" y2="259.80" stroke="#000" stroke-width="1.05" />
<line x1="67.93" y1="260.80" x2="80.13" y2="260.80" stroke="#000" stroke-width="1.05" />
<line x1="85.59" y1="260.30" x2="85.59" y2="261.30" stroke="#000" stroke-width="1.05" />
<line x1="79.49" y1="260.30" x2="91.69" y2="260.30" stroke="#000" stroke-width="1.05" />
<line x1="79.49" y1="261.30" x2="91.69" y2="261.30" stroke="#000" stroke-width="1.05" />
<line x1="97.15" y1="261.20" x2="97.15" y2="262.20" stroke="#000" stroke-width="1.05" />
<line x1="91.05" y1="261.20" x2="103.25" y2="261.20" stroke="#000" stroke-width="1.05" />
<line x1="91.05" y1="262.20" x2="103.25" y2="262.20" stroke="#000" stroke-width="1.05" />
<line x1="108.72" y1="256.50" x2="108.72" y2="257.50" stroke="#000" stroke-width="1.05" />
<line x1="102.62" y1="256.50" x2="114.82" y2="256.50" stroke="#000" stroke-width="1.05" />
<line x1="102.62" y1="257.50" x2="114.82" y2="257.50" stroke="#000" stroke-width="1.05" />
<line x1="120.28" y1="246.60" x2="120.28" y2="257.80" stroke="#000" stroke-width="1.05" />
<line x1="114.18" y1="246.60" x2="126.38" y2="246.60" stroke="#000" stroke-width="1.05" />
<line x1="114.18" y1="257.80" x2="126.38" y2="257.80" stroke="#000" stroke-width="1.05" />
<line x1="131.85" y1="249.70" x2="131.85" y2="266.50" stroke="#000" stroke-width="1.05" />
<line x1="125.75" y1="249.70" x2="137.95" y2="249.70" stroke="#000" stroke-width="1.05" />
<line x1="125.75" y1="266.50" x2="137.95" y2="266.50" stroke="#000" stroke-width="1.05" />
<line x1="143.41" y1="251.20" x2="143.41" y2="263.90" stroke="#000" stroke-width="1.05" />
<line x1="137.31" y1="251.20" x2="149.51" y2="251.20" stroke="#000" stroke-width="1.05" />
<line x1="137.31" y1="263.90" x2="149.51" y2="263.90" stroke="#000" stroke-width="1.05" />
<line x1="154.97" y1="235.80" x2="154.97" y2="253.40" stroke="#000" stroke-width="1.05" />
<line x1="148.87" y1="235.80" x2="161.07" y2="235.80" stroke="#000" stroke-width="1.05" />
<line x1="148.87" y1="253.40" x2="161.07" y2="253.40" stroke="#000" stroke-width="1.05" />
<line x1="166.54" y1="233.50" x2="166.54" y2="244.60" stroke="#000" stroke-width="1.05" />
<line x1="160.44" y1="233.50" x2="172.64" y2="233.50" stroke="#000" stroke-width="1.05" />
<line x1="160.44" y1="244.60" x2="172.64" y2="244.60" stroke="#000" stroke-width="1.05" />
<line x1="178.10" y1="230.10" x2="178.10" y2="248.40" stroke="#000" stroke-width="1.05" />
<line x1="172.00" y1="230.10" x2="184.20" y2="230.10" stroke="#000" stroke-width="1.05" />
<line x1="172.00" y1="248.40" x2="184.20" y2="248.40" stroke="#000" stroke-width="1.05" />
<line x1="189.66" y1="220.10" x2="189.66" y2="243.70" stroke="#000" stroke-width="1.05" />
<line x1="183.56" y1="220.10" x2="195.76" y2="220.10" stroke="#000" stroke-width="1.05" />
<line x1="183.56" y1="243.70" x2="195.76" y2="243.70" stroke="#000" stroke-width="1.05" />
<line x1="201.23" y1="223.90" x2="201.23" y2="235.30" stroke="#000" stroke-width="1.05" />
<line x1="195.13" y1="223.90" x2="207.33" y2="223.90" stroke="#000" stroke-width="1.05" />
<line x1="195.13" y1="235.30" x2="207.33" y2="235.30" stroke="#000" stroke-width="1.05" />
<line x1="212.79" y1="214.50" x2="212.79" y2="245.50" stroke="#000" stroke-width="1.05" />
<line x1="206.69" y1="214.50" x2="218.89" y2="214.50" stroke="#000" stroke-width="1.05" />
<line x1="206.69" y1="245.50" x2="218.89" y2="245.50" stroke="#000" stroke-width="1.05" />
<line x1="224.35" y1="217.00" x2="224.35" y2="235.30" stroke="#000" stroke-width="1.05" />
<line x1="218.25" y1="217.00" x2="230.45" y2="217.00" stroke="#000" stroke-width="1.05" />
<line x1="218.25" y1="235.30" x2="230.45" y2="235.30" stroke="#000" stroke-width="1.05" />
<line x1="235.92" y1="212.70" x2="235.92" y2="232.50" stroke="#000" stroke-width="1.05" />
<line x1="229.82" y1="212.70" x2="242.02" y2="212.70" stroke="#000" stroke-width="1.05" />
<line x1="229.82" y1="232.50" x2="242.02" y2="232.50" stroke="#000" stroke-width="1.05" />
<line x1="247.48" y1="210.20" x2="247.48" y2="232.10" stroke="#000" stroke-width="1.05" />
<line x1="241.38" y1="210.20" x2="253.58" y2="210.20" stroke="#000" stroke-width="1.05" />
<line x1="241.38" y1="232.10" x2="253.58" y2="232.10" stroke="#000" stroke-width="1.05" />
<line x1="259.05" y1="213.40" x2="259.05" y2="236.20" stroke="#000" stroke-width="1.05" />
<line x1="252.95" y1="213.40" x2="265.15" y2="213.40" stroke="#000" stroke-width="1.05" />
<line x1="252.95" y1="236.20" x2="265.15" y2="236.20" stroke="#000" stroke-width="1.05" />
<line x1="270.61" y1="209.80" x2="270.61" y2="223.50" stroke="#000" stroke-width="1.05" />
<line x1="264.51" y1="209.80" x2="276.71" y2="209.80" stroke="#000" stroke-width="1.05" />
<line x1="264.51" y1="223.50" x2="276.71" y2="223.50" stroke="#000" stroke-width="1.05" />
<line x1="282.17" y1="195.10" x2="282.17" y2="229.60" stroke="#000" stroke-width="1.05" />
<line x1="276.07" y1="195.10" x2="288.27" y2="195.10" stroke="#000" stroke-width="1.05" />
<line x1="276.07" y1="229.60" x2="288.27" y2="229.60" stroke="#000" stroke-width="1.05" />
<circle cx="62.46" cy="257.00" r="5.1" fill="url(#gb)"/>
<circle cx="74.03" cy="260.30" r="5.1" fill="url(#gb)"/>
<circle cx="85.59" cy="260.80" r="5.1" fill="url(#gb)"/>
<circle cx="97.15" cy="261.70" r="5.1" fill="url(#gb)"/>
<circle cx="108.72" cy="257.00" r="5.1" fill="url(#gb)"/>
<circle cx="120.28" cy="252.20" r="5.1" fill="url(#gb)"/>
<circle cx="131.85" cy="258.70" r="5.1" fill="url(#gb)"/>
<circle cx="143.41" cy="257.50" r="5.1" fill="url(#gb)"/>
<circle cx="154.97" cy="244.60" r="5.1" fill="url(#gb)"/>
<circle cx="166.54" cy="238.80" r="5.1" fill="url(#gb)"/>
<circle cx="178.10" cy="239.00" r="5.1" fill="url(#gb)"/>
<circle cx="189.66" cy="231.80" r="5.1" fill="url(#gb)"/>
<circle cx="201.23" cy="229.50" r="5.1" fill="url(#gb)"/>
<circle cx="212.79" cy="229.80" r="5.1" fill="url(#gb)"/>
<circle cx="224.35" cy="225.90" r="5.1" fill="url(#gb)"/>
<circle cx="235.92" cy="222.10" r="5.1" fill="url(#gb)"/>
<circle cx="247.48" cy="220.80" r="5.1" fill="url(#gb)"/>
<circle cx="259.05" cy="224.90" r="5.1" fill="url(#gb)"/>
<circle cx="270.61" cy="216.40" r="5.1" fill="url(#gb)"/>
<circle cx="282.17" cy="212.30" r="5.1" fill="url(#gb)"/>
<g clip-path="url(#cb)">
<path d="M53.00,190.80 C53.10,194.83 53.33,206.80 53.60,215.00 C53.87,223.20 54.12,232.68 54.60,240.00 C55.08,247.32 55.65,252.62 56.50,258.90 C57.35,265.18 58.70,272.77 59.70,277.70 C60.70,282.63 61.57,285.48 62.50,288.50 C63.43,291.52 64.33,293.92 65.30,295.80 C66.27,297.68 67.22,298.62 68.30,299.80 C69.38,300.98 70.60,301.97 71.80,302.90 C73.00,303.83 74.13,304.65 75.50,305.40 C76.87,306.15 78.42,306.92 80.00,307.40 C81.58,307.88 83.42,308.12 85.00,308.30 C86.58,308.48 87.83,308.50 89.50,308.50 C91.17,308.50 93.25,308.42 95.00,308.30 C96.75,308.18 97.83,308.05 100.00,307.80 C102.17,307.55 104.45,307.28 108.00,306.80 C111.55,306.32 117.63,305.53 121.30,304.90 C124.97,304.27 126.88,303.73 130.00,303.00 C133.12,302.27 136.67,301.35 140.00,300.50 C143.33,299.65 146.67,298.77 150.00,297.90 C153.33,297.03 156.67,296.17 160.00,295.30 C163.33,294.43 166.67,293.50 170.00,292.70 C173.33,291.90 176.67,291.25 180.00,290.50 C183.33,289.75 186.67,289.03 190.00,288.20 C193.33,287.37 196.27,286.52 200.00,285.50 C203.73,284.48 207.40,283.56 212.40,282.10 C217.40,280.64 224.40,278.42 230.00,276.75 C235.60,275.08 239.33,274.06 246.00,272.10 C252.67,270.14 263.97,266.80 270.00,265.00 C276.03,263.20 278.87,262.27 282.20,261.30 C285.53,260.33 286.13,260.27 290.00,259.20 C293.87,258.13 302.83,255.62 305.40,254.90" fill="none" stroke="#60aefa" stroke-width="2.5" stroke-linecap="butt" stroke-linejoin="round"/>
<path d="M57.10,180.00 C57.23,180.60 57.37,180.12 57.90,183.60 C58.43,187.08 59.27,194.88 60.30,200.90 C61.33,206.92 62.87,214.77 64.10,219.70 C65.33,224.63 66.38,227.35 67.70,230.50 C69.02,233.65 70.50,236.15 72.00,238.60 C73.50,241.05 75.12,243.40 76.70,245.20 C78.28,247.00 79.70,248.07 81.50,249.40 C83.30,250.73 85.22,252.15 87.50,253.20 C89.78,254.25 92.67,255.08 95.20,255.70 C97.73,256.32 100.23,256.67 102.70,256.90 C105.17,257.13 107.28,257.18 110.00,257.10 C112.72,257.02 115.85,256.75 119.00,256.40 C122.15,256.05 125.73,255.45 128.90,255.00 C132.07,254.55 134.87,254.20 138.00,253.70 C141.13,253.20 144.03,252.75 147.70,252.00 C151.37,251.25 155.62,250.23 160.00,249.20 C164.38,248.17 169.00,247.10 174.00,245.80 C179.00,244.50 184.00,243.12 190.00,241.40 C196.00,239.68 203.33,237.52 210.00,235.50 C216.67,233.48 224.00,231.10 230.00,229.30 C236.00,227.50 238.67,227.00 246.00,224.70 C253.33,222.40 266.67,217.93 274.00,215.50 C281.33,213.07 284.77,211.87 290.00,210.10 C295.23,208.33 302.83,205.77 305.40,204.90" fill="none" stroke="#ff3644" stroke-width="2.5" stroke-linecap="butt" stroke-linejoin="round"/>
</g>
<polygon points="83.50,190.00 85.09,193.82 89.21,194.15 86.07,196.83 87.03,200.85 83.50,198.70 79.97,200.85 80.93,196.83 77.79,194.15 81.91,193.82" fill="#000"/>
<circle cx="83.7" cy="212.9" r="4.95" fill="url(#gb)"/>
<text x="99.5" y="199.4" font-size="10.6" fill="#000" stroke="#000" stroke-width="0.35">I</text>
<text x="102.0" y="202.4" font-size="6.9" fill="#000" textLength="8.4" lengthAdjust="spacingAndGlyphs">on</text>
<text x="99.5" y="216.3" font-size="10.6" fill="#000" stroke="#000" stroke-width="0.35">I</text>
<text x="102.0" y="219.3" font-size="6.9" fill="#000" textLength="8.5" lengthAdjust="spacingAndGlyphs">crit</text>
<text x="50.70" y="325.00" font-size="11.4" text-anchor="middle" fill="#000" textLength="5.40" lengthAdjust="spacingAndGlyphs" >0</text>
<text x="108.52" y="325.00" font-size="11.4" text-anchor="middle" fill="#000" textLength="10.80" lengthAdjust="spacingAndGlyphs" >50</text>
<text x="166.34" y="325.00" font-size="11.4" text-anchor="middle" fill="#000" textLength="16.00" lengthAdjust="spacingAndGlyphs" >100</text>
<text x="224.15" y="325.00" font-size="11.4" text-anchor="middle" fill="#000" textLength="16.00" lengthAdjust="spacingAndGlyphs" >150</text>
<text x="281.97" y="325.00" font-size="11.4" text-anchor="middle" fill="#000" textLength="16.60" lengthAdjust="spacingAndGlyphs" >200</text>
<text x="45.20" y="303.59" font-size="11.4" text-anchor="end" fill="#000" textLength="13.80" lengthAdjust="spacingAndGlyphs" >0.4</text>
<text x="45.20" y="257.15" font-size="11.4" text-anchor="end" fill="#000" textLength="13.80" lengthAdjust="spacingAndGlyphs" >0.6</text>
<text x="45.20" y="210.72" font-size="11.4" text-anchor="end" fill="#000" textLength="13.80" lengthAdjust="spacingAndGlyphs" >0.8</text>
<text x="310.20" y="289.80" font-size="11.4" text-anchor="start" fill="#000" textLength="10.80" lengthAdjust="spacingAndGlyphs" >40</text>
<text x="310.20" y="261.30" font-size="11.4" text-anchor="start" fill="#000" textLength="10.80" lengthAdjust="spacingAndGlyphs" >50</text>
<text x="310.20" y="232.80" font-size="11.4" text-anchor="start" fill="#000" textLength="10.80" lengthAdjust="spacingAndGlyphs" >60</text>
<text x="310.20" y="204.30" font-size="11.4" text-anchor="start" fill="#000" textLength="10.80" lengthAdjust="spacingAndGlyphs" >70</text>
<text x="51.80" y="179.30" font-size="12.2" text-anchor="start" fill="#000" textLength="15.40" lengthAdjust="spacingAndGlyphs" >(b)</text>
<text x="152.5" y="338.5" font-size="12.4" fill="#000">&#956;<tspan font-size="9.0" dy="2.9">0</tspan><tspan dy="-2.9" font-size="12.4" dx="-0.4">H (mT)</tspan></text>
<g transform="translate(23.4,276.8) rotate(-90)"><text x="0" y="0" font-size="11.2" fill="#000">I</text><text x="4.8" y="3.9" font-size="8.2" fill="#000" textLength="24.4" lengthAdjust="spacingAndGlyphs">on/crit</text><text x="32.4" y="0" font-size="11.2" fill="#000" textLength="24.6" lengthAdjust="spacingAndGlyphs">(mA)</text></g>
<g transform="translate(332.7,300.2) rotate(-90)"><text x="0" y="0" font-size="11.6" fill="#60aefa">&#956;</text><text x="6.6" y="3.2" font-size="8.3" fill="#60aefa" textLength="13.2" lengthAdjust="spacingAndGlyphs">c=2</text><text x="24.0" y="0.2" font-size="12.6" fill="#000" textLength="19.8" lengthAdjust="spacingAndGlyphs">and</text><text x="50.4" y="0" font-size="11.6" fill="#ff3644">&#956;</text><text x="57.0" y="3.2" font-size="8.3" fill="#ff3644" textLength="13.2" lengthAdjust="spacingAndGlyphs">c=1</text><text x="74.0" y="0.2" font-size="12.8" fill="#000" textLength="30.4" lengthAdjust="spacingAndGlyphs">(&#956;eV)</text></g>
</g></svg></body></html>
